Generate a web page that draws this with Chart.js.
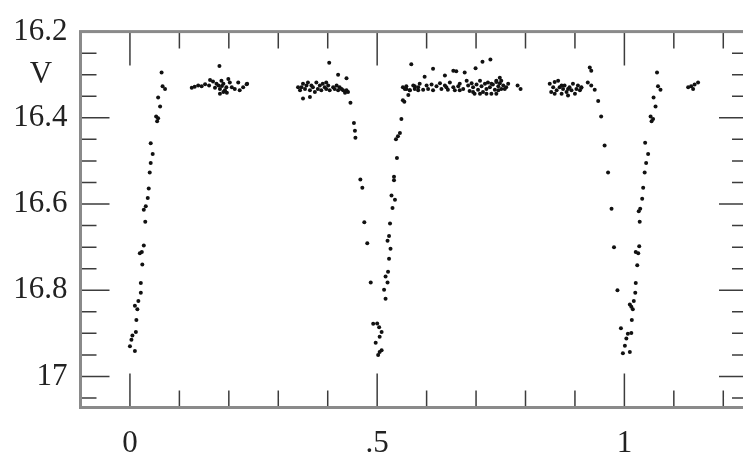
<!DOCTYPE html>
<html><head><meta charset="utf-8">
<script src="https://cdn.jsdelivr.net/npm/chart.js@4.4.1/dist/chart.umd.min.js"></script>
<style>html,body{margin:0;padding:0;background:#fff;overflow:hidden}canvas{display:block}</style>
</head><body>
<canvas id="c" width="750" height="462"></canvas>
<script>
// Phase-folded V light curve
const egress1Phase = [0.000,0.010,0.003,0.005,0.012,0.013,0.017,0.010,0.015,0.022,0.022,0.025,0.024,0.020,0.028,0.031,0.032,0.028,0.036,0.038,0.040,0.042,0.046,0.042,0.053,0.057,0.055,0.061,0.057,0.066,0.071,0.064];
const egress1Mag   = [16.930,16.941,16.915,16.905,16.897,16.869,16.825,16.836,16.844,16.806,16.783,16.740,16.711,16.714,16.696,16.641,16.605,16.613,16.586,16.564,16.527,16.505,16.484,16.459,16.397,16.401,16.408,16.374,16.353,16.327,16.333,16.295];

const plateau1Phase = [0.125,0.131,0.138,0.145,0.152,0.162,0.168,0.175,0.179,0.182,0.185,0.189,0.192,0.195,0.199,0.202,0.206,0.212,0.219,0.222,0.229,0.237,0.182,0.189,0.172,0.186,0.196,0.160,0.181,0.236];
const plateau1Mag   = [16.330,16.328,16.325,16.327,16.322,16.312,16.316,16.321,16.325,16.333,16.314,16.321,16.336,16.329,16.310,16.318,16.329,16.333,16.318,16.336,16.329,16.321,16.344,16.340,16.330,16.326,16.342,16.325,16.280,16.322];

const plateau2Phase = [0.340,0.344,0.347,0.350,0.354,0.357,0.360,0.364,0.367,0.370,0.374,0.377,0.380,0.384,0.387,0.390,0.394,0.397,0.397,0.401,0.404,0.411,0.414,0.418,0.421,0.424,0.428,0.431,0.435,0.438,0.441,0.350,0.364,0.403,0.421,0.438,0.446];
const plateau2Mag   = [16.329,16.336,16.329,16.321,16.333,16.325,16.318,16.336,16.325,16.329,16.340,16.318,16.333,16.325,16.336,16.321,16.329,16.333,16.318,16.325,16.336,16.329,16.333,16.325,16.336,16.329,16.333,16.336,16.342,16.336,16.340,16.355,16.352,16.272,16.300,16.308,16.365];

const eclipse2Phase = [0.453,0.455,0.456,0.466,0.470,0.474,0.480,0.487,0.492,0.500,0.504,0.509,0.505,0.497,0.509,0.505,0.502,0.514,0.517,0.522,0.517,0.521,0.524,0.527,0.524,0.521,0.526,0.529,0.536,0.531,0.534,0.534,0.540,0.546,0.542,0.538,0.549,0.555,0.552,0.552,0.559,0.566,0.576,0.583,0.563,0.569];
const eclipse2Mag   = [16.412,16.430,16.446,16.543,16.562,16.642,16.691,16.782,16.878,16.877,16.886,16.897,16.908,16.922,16.939,16.943,16.950,16.799,16.820,16.757,16.768,16.782,16.727,16.704,16.674,16.685,16.645,16.580,16.590,16.609,16.537,16.545,16.493,16.435,16.443,16.450,16.403,16.363,16.359,16.329,16.333,16.336,16.327,16.336,16.347,16.276];

const plateau3Phase = [0.556,0.559,0.566,0.573,0.576,0.583,0.586,0.593,0.600,0.603,0.610,0.613,0.620,0.627,0.630,0.637,0.640,0.643,0.647,0.654,0.657,0.664,0.667,0.667,0.674,0.681,0.684,0.687,0.691,0.694,0.694,0.697,0.701,0.704,0.708,0.708,0.711,0.714,0.718,0.721,0.721,0.724,0.728,0.731,0.734,0.738,0.741,0.745,0.748,0.751,0.755,0.761,0.765,0.731,0.741,0.745,0.751,0.758,0.741,0.613,0.637,0.654,0.660,0.677,0.699,0.713,0.729,0.596,0.748,0.784,0.790];
const plateau3Mag   = [16.333,16.327,16.336,16.325,16.333,16.329,16.321,16.335,16.325,16.333,16.323,16.336,16.327,16.320,16.333,16.325,16.329,16.335,16.318,16.329,16.336,16.327,16.321,16.336,16.333,16.314,16.325,16.338,16.320,16.329,16.340,16.344,16.323,16.335,16.314,16.344,16.327,16.340,16.321,16.333,16.344,16.318,16.329,16.344,16.323,16.335,16.314,16.327,16.320,16.333,16.325,16.329,16.321,16.321,16.317,16.336,16.314,16.333,16.344,16.286,16.302,16.291,16.292,16.295,16.285,16.270,16.265,16.305,16.307,16.325,16.333];

const plateau4Phase = [0.849,0.852,0.856,0.859,0.859,0.863,0.866,0.869,0.873,0.873,0.876,0.879,0.883,0.886,0.886,0.889,0.893,0.896,0.900,0.903,0.906,0.910,0.913];
const plateau4Mag   = [16.321,16.340,16.329,16.317,16.344,16.336,16.314,16.329,16.344,16.325,16.333,16.325,16.340,16.348,16.333,16.329,16.336,16.321,16.344,16.333,16.325,16.336,16.329];

const eclipse3Phase = [0.930,0.933,0.913,0.926,0.933,0.940,0.947,0.953,0.960,0.967,0.974,0.979,0.986,0.993,0.997,1.001,1.004,1.007,1.011,1.014,1.015,1.017,1.014,1.011,1.019,1.022,1.023,1.026,1.023,1.028,1.030,1.031,1.032,1.029,1.036,1.038,1.041,1.044,1.048,1.042,1.053,1.058,1.055,1.063,1.059,1.068,1.073,1.066];
const eclipse3Mag   = [16.283,16.291,16.330,16.318,16.325,16.335,16.361,16.397,16.464,16.527,16.611,16.700,16.800,16.888,16.946,16.929,16.912,16.901,16.943,16.899,16.869,16.844,16.838,16.833,16.825,16.806,16.783,16.742,16.711,16.714,16.698,16.641,16.611,16.617,16.588,16.562,16.527,16.505,16.484,16.458,16.397,16.403,16.408,16.374,16.353,16.327,16.335,16.295];

const plateau5Phase = [1.129,1.135,1.142,1.149,1.139];
const plateau5Mag   = [16.329,16.327,16.323,16.318,16.333];

// Axes
const xTickValues = [0, 0.5, 1];
const xTickLabels = ['0', '.5', '1'];
const xMinorTicks = [0, 0.1, 0.2, 0.3, 0.4, 0.5, 0.6, 0.7, 0.8, 0.9, 1, 1.1, 1.2];
const yTickValues = [16.2, 16.4, 16.6, 16.8, 17];
const yTickLabels = ['16.2', '16.4', '16.6', '16.8', '17'];
const yMinorTicks = [16.2, 16.25, 16.3, 16.35, 16.4, 16.45, 16.5, 16.55, 16.6, 16.65, 16.7, 16.75, 16.8, 16.85, 16.9, 16.95, 17, 17.05];
const yAxisTitle = 'V';

const segments = [
  [egress1Phase, egress1Mag], [plateau1Phase, plateau1Mag], [plateau2Phase, plateau2Mag],
  [eclipse2Phase, eclipse2Mag], [plateau3Phase, plateau3Mag], [plateau4Phase, plateau4Mag],
  [eclipse3Phase, eclipse3Mag], [plateau5Phase, plateau5Mag]
];
const points = [];
segments.forEach(([p, m]) => p.forEach((v, i) => points.push({x: v, y: m[i]})));

const FONT = '"Liberation Serif", "Times New Roman", serif';
const TEXT = '#222';

const framePlugin = {
  id: 'frame',
  afterDraw(chart) {
    const {ctx, chartArea: a, scales: {x, y}} = chart;
    ctx.save();
    ctx.strokeStyle = '#3c3c3c';
    ctx.lineWidth = 1.5;
    ctx.beginPath();
    xMinorTicks.forEach(v => {
      const px = x.getPixelForValue(v);
      const len = xTickValues.includes(v) ? 34 : 17;
      ctx.moveTo(px, a.bottom); ctx.lineTo(px, a.bottom - len);
      ctx.moveTo(px, a.top); ctx.lineTo(px, a.top + len);
    });
    yMinorTicks.forEach(v => {
      const py = y.getPixelForValue(v);
      const len = yTickValues.includes(v) ? 29 : 16;
      ctx.moveTo(a.left, py); ctx.lineTo(a.left + len, py);
      ctx.moveTo(a.right, py); ctx.lineTo(a.right - len, py);
    });
    ctx.stroke();
    ctx.strokeStyle = '#8a8a8a';
    ctx.lineWidth = 3;
    ctx.strokeRect(a.left, a.top, a.right - a.left, a.bottom - a.top);
    ctx.fillStyle = TEXT;
    ctx.font = '31px ' + FONT;
    ctx.textAlign = 'center';
    ctx.textBaseline = 'middle';
    ctx.fillText(yAxisTitle, 41, y.getPixelForValue(16.3));
    ctx.restore();
  }
};

new Chart(document.getElementById('c'), {
  type: 'scatter',
  data: { datasets: [{ data: points, backgroundColor: '#111', pointRadius: 2.0, pointBorderWidth: 0, pointHoverRadius: 2.0 }] },
  options: {
    responsive: false,
    animation: false,
    events: [],
    layout: { padding: { top: 23.3, right: 1.5, left: 0, bottom: 0 } },
    plugins: { legend: { display: false }, tooltip: { enabled: false } },
    scales: {
      x: {
        type: 'linear', min: -0.1, max: 1.25,
        grid: { display: false, drawTicks: false }, border: { display: false },
        afterBuildTicks: s => { s.ticks = xTickValues.map(v => ({ value: v })); },
        afterFit: s => { s.height = 54.5; },
        ticks: { padding: 18, color: TEXT, font: { family: FONT, size: 31 }, maxRotation: 0, autoSkip: false,
                 callback: (v, i) => xTickLabels[i] }
      },
      y: {
        type: 'linear', reverse: true, min: 16.2, max: 17.072,
        grid: { display: false, drawTicks: false }, border: { display: false },
        afterBuildTicks: s => { s.ticks = yTickValues.map(v => ({ value: v })); },
        afterFit: s => { s.width = 80.5; },
        ticks: { padding: 13, color: TEXT, font: { family: FONT, size: 31 }, autoSkip: false,
                 callback: (v, i) => yTickLabels[i] }
      }
    }
  },
  plugins: [framePlugin]
});
</script>
</body></html>
